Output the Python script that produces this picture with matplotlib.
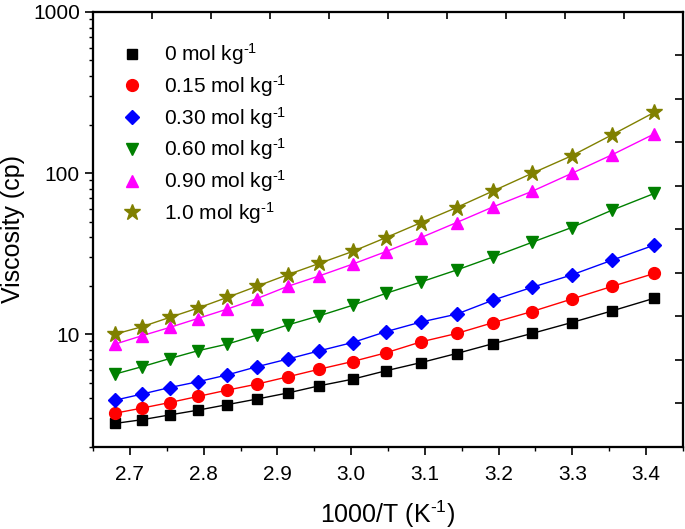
import matplotlib
matplotlib.use("Agg")
import matplotlib.pyplot as plt
from matplotlib.lines import Line2D
from matplotlib.ticker import MultipleLocator, LogLocator, NullFormatter, FixedLocator

plt.rcParams['font.family'] = ['Liberation Sans', 'DejaVu Sans']
plt.rcParams['mathtext.fontset'] = 'custom'
plt.rcParams['mathtext.rm'] = 'Liberation Sans'
plt.rcParams['mathtext.it'] = 'Liberation Sans:italic'
plt.rcParams['mathtext.default'] = 'regular'

# 1000/T (K^-1)
inv_T = [2.680, 2.716, 2.754, 2.792, 2.832, 2.872, 2.914, 2.957, 3.002,
         3.047, 3.095, 3.143, 3.193, 3.245, 3.299, 3.354, 3.411]

sup = "$^{\u2010" + "1}$"
labels = ["0 mol kg" + sup, "0.15 mol kg" + sup, "0.30 mol kg" + sup,
          "0.60 mol kg" + sup, "0.90 mol kg" + sup, "1.0 mol kg" + sup]

visc_0 = [2.79, 2.94, 3.15, 3.37, 3.65, 3.95, 4.31, 4.78, 5.25, 5.92,
          6.66, 7.58, 8.74, 10.09, 11.8, 13.95, 16.7]
visc_015 = [3.23, 3.47, 3.76, 4.10, 4.49, 4.89, 5.43, 6.06, 6.76, 7.65,
            8.96, 10.09, 11.8, 13.8, 16.5, 19.8, 23.8]
visc_030 = [3.89, 4.24, 4.66, 5.06, 5.58, 6.27, 7.0, 7.88, 8.87, 10.35,
            11.9, 13.3, 16.3, 19.5, 23.3, 28.8, 35.7]
visc_060 = [5.65, 6.27, 7.05, 7.88, 8.67, 9.86, 11.4, 13.0, 15.1, 17.9,
            21.1, 25.0, 30.2, 37.1, 45.9, 58.9, 74.7]
visc_090 = [8.67, 9.76, 11.0, 12.5, 14.3, 16.6, 19.8, 23.0, 27.2, 32.5,
            39.8, 49.3, 61.8, 76.9, 99.5, 130, 175]
visc_100 = [10.0, 11.1, 12.7, 14.5, 16.9, 19.8, 23.4, 27.5, 32.6, 39.7,
            49.3, 61.1, 77.6, 99.5, 128, 173, 238]

series = [visc_0, visc_015, visc_030, visc_060, visc_090, visc_100]
colors = ['#000000', '#ff0000', '#0000ff', '#008000', '#ff00ff', '#808000']
markers = ['s', 'o', 'D', 'v', '^', '*']
msizes = [7.5, 8.5, 7.5, 9, 9, 12]

fig = plt.figure(figsize=(6.85, 5.29), dpi=100)
ax = fig.add_axes([93/685, 1-446.7/529, 590/685, (446.7-12)/529])

for ys, c, m, ms in zip(series, colors, markers, msizes):
    ax.plot(inv_T, ys, color=c, lw=1.0, marker=m, ms=ms, mec=c, mfc=c, zorder=3)

ax.set_yscale('log')
ax.set_xlim(2.65, 3.45)
ax.set_ylim(2, 1000)
ax.xaxis.set_major_locator(MultipleLocator(0.1))
ax.xaxis.set_minor_locator(MultipleLocator(0.05))
ax.yaxis.set_major_locator(LogLocator(base=10, numticks=10))
ax.yaxis.set_minor_locator(LogLocator(base=10, subs=range(2, 10), numticks=20))
ax.yaxis.set_minor_formatter(NullFormatter())
ax.xaxis.set_major_formatter(matplotlib.ticker.FormatStrFormatter('%.1f'))
ax.yaxis.set_major_formatter(matplotlib.ticker.FuncFormatter(lambda v, p: f"{v:g}"))

ax.tick_params(which='major', direction='out', length=5.5, width=1.2, labelsize=15,
               top=False, right=False)
ax.tick_params(which='minor', direction='out', length=3, width=1.0,
               top=False, right=False)
ax.tick_params(axis='x', which='major', pad=8)
ax.tick_params(axis='y', which='major', pad=4)
for s in ax.spines.values():
    s.set_linewidth(1.5)

ax.set_xlabel("1000/T (K" + sup + ")", fontsize=18, labelpad=10)
ax.set_ylabel("Viscosity (cp)", fontsize=18, labelpad=6)

# Secondary top/right axes with linear inward ticks (as in reference)
axt = ax.twiny()
axt.set_xlim(0, 1)
axt.xaxis.set_major_locator(FixedLocator([0.1*i for i in range(1, 10)]))
axt.tick_params(axis='x', direction='in', length=5, width=1.2, labeltop=False, top=True)
axr = ax.twinx()
axr.set_ylim(0, 1)
axr.yaxis.set_major_locator(FixedLocator([0.1*i for i in range(1, 10)]))
axr.tick_params(axis='y', direction='in', length=6, width=1.2, labelright=False, right=True)
for a in (axt, axr):
    for s in a.spines.values():
        s.set_linewidth(1.5)

handles = [Line2D([], [], ls='none', marker=m, ms=ms, color=c)
           for c, m, ms in zip(colors, markers, msizes)]
ax.legend(handles, labels, loc='upper left', bbox_to_anchor=(0.035, 0.952),
          frameon=False, fontsize=15, handlelength=1.0, handletextpad=1.0,
          labelspacing=0.28, borderaxespad=0)

fig.savefig("out.png", dpi=100)
